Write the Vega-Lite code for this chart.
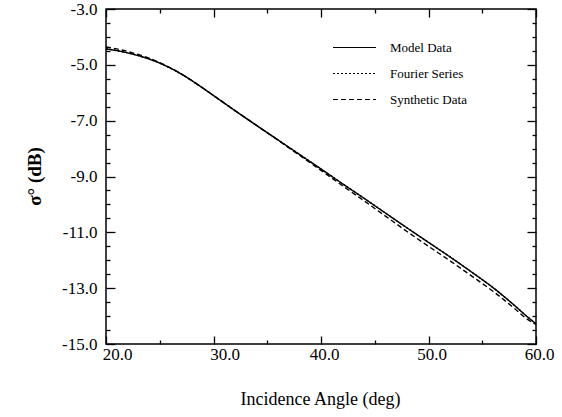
{
  "$schema": "https://vega.github.io/schema/vega-lite/v6.json",
  "width": 430,
  "height": 335,
  "autosize": "none",
  "padding": {"left": 106, "top": 9, "right": 26, "bottom": 73},
  "background": "white",
  "config": {
    "font": "Liberation Serif",
    "style": {"guide-label": {"font": "Liberation Serif"}, "guide-title": {"font": "Liberation Serif"}},
    "view": {"stroke": "black", "strokeWidth": 1.5},
    "axis": {"domain": false, "grid": false, "tickColor": "black", "tickWidth": 1.3,
      "labelFont": "Liberation Serif", "labelFontSize": 17, "labelColor": "black",
      "titleFont": "Liberation Serif", "titleColor": "black"}
  },
  "data": {"values": [
    {"angle": 20, "sigma": -4.43, "series": "Model Data"},
    {"angle": 21, "sigma": -4.49, "series": "Model Data"},
    {"angle": 22, "sigma": -4.57, "series": "Model Data"},
    {"angle": 23, "sigma": -4.67, "series": "Model Data"},
    {"angle": 24, "sigma": -4.79, "series": "Model Data"},
    {"angle": 25, "sigma": -4.94, "series": "Model Data"},
    {"angle": 26, "sigma": -5.12, "series": "Model Data"},
    {"angle": 27, "sigma": -5.33, "series": "Model Data"},
    {"angle": 28, "sigma": -5.57, "series": "Model Data"},
    {"angle": 29, "sigma": -5.83, "series": "Model Data"},
    {"angle": 30, "sigma": -6.10, "series": "Model Data"},
    {"angle": 32, "sigma": -6.64, "series": "Model Data"},
    {"angle": 34, "sigma": -7.17, "series": "Model Data"},
    {"angle": 36, "sigma": -7.69, "series": "Model Data"},
    {"angle": 38, "sigma": -8.21, "series": "Model Data"},
    {"angle": 40, "sigma": -8.73, "series": "Model Data"},
    {"angle": 42, "sigma": -9.26, "series": "Model Data"},
    {"angle": 44, "sigma": -9.78, "series": "Model Data"},
    {"angle": 46, "sigma": -10.31, "series": "Model Data"},
    {"angle": 48, "sigma": -10.84, "series": "Model Data"},
    {"angle": 50, "sigma": -11.36, "series": "Model Data"},
    {"angle": 52, "sigma": -11.88, "series": "Model Data"},
    {"angle": 54, "sigma": -12.42, "series": "Model Data"},
    {"angle": 56, "sigma": -12.98, "series": "Model Data"},
    {"angle": 58, "sigma": -13.62, "series": "Model Data"},
    {"angle": 59, "sigma": -13.96, "series": "Model Data"},
    {"angle": 60, "sigma": -14.28, "series": "Model Data"},
    {"angle": 20, "sigma": -4.42, "series": "Fourier Series"},
    {"angle": 21, "sigma": -4.49, "series": "Fourier Series"},
    {"angle": 22, "sigma": -4.57, "series": "Fourier Series"},
    {"angle": 23, "sigma": -4.67, "series": "Fourier Series"},
    {"angle": 24, "sigma": -4.79, "series": "Fourier Series"},
    {"angle": 25, "sigma": -4.94, "series": "Fourier Series"},
    {"angle": 26, "sigma": -5.12, "series": "Fourier Series"},
    {"angle": 27, "sigma": -5.33, "series": "Fourier Series"},
    {"angle": 28, "sigma": -5.57, "series": "Fourier Series"},
    {"angle": 29, "sigma": -5.83, "series": "Fourier Series"},
    {"angle": 30, "sigma": -6.10, "series": "Fourier Series"},
    {"angle": 32, "sigma": -6.64, "series": "Fourier Series"},
    {"angle": 34, "sigma": -7.17, "series": "Fourier Series"},
    {"angle": 36, "sigma": -7.69, "series": "Fourier Series"},
    {"angle": 38, "sigma": -8.21, "series": "Fourier Series"},
    {"angle": 40, "sigma": -8.73, "series": "Fourier Series"},
    {"angle": 42, "sigma": -9.26, "series": "Fourier Series"},
    {"angle": 44, "sigma": -9.78, "series": "Fourier Series"},
    {"angle": 46, "sigma": -10.31, "series": "Fourier Series"},
    {"angle": 48, "sigma": -10.84, "series": "Fourier Series"},
    {"angle": 50, "sigma": -11.36, "series": "Fourier Series"},
    {"angle": 52, "sigma": -11.88, "series": "Fourier Series"},
    {"angle": 54, "sigma": -12.42, "series": "Fourier Series"},
    {"angle": 56, "sigma": -12.98, "series": "Fourier Series"},
    {"angle": 58, "sigma": -13.62, "series": "Fourier Series"},
    {"angle": 59, "sigma": -13.96, "series": "Fourier Series"},
    {"angle": 60, "sigma": -14.28, "series": "Fourier Series"},
    {"angle": 20, "sigma": -4.36, "series": "Synthetic Data"},
    {"angle": 21, "sigma": -4.43, "series": "Synthetic Data"},
    {"angle": 22, "sigma": -4.52, "series": "Synthetic Data"},
    {"angle": 23, "sigma": -4.63, "series": "Synthetic Data"},
    {"angle": 24, "sigma": -4.76, "series": "Synthetic Data"},
    {"angle": 25, "sigma": -4.92, "series": "Synthetic Data"},
    {"angle": 26, "sigma": -5.11, "series": "Synthetic Data"},
    {"angle": 27, "sigma": -5.32, "series": "Synthetic Data"},
    {"angle": 28, "sigma": -5.57, "series": "Synthetic Data"},
    {"angle": 29, "sigma": -5.83, "series": "Synthetic Data"},
    {"angle": 30, "sigma": -6.10, "series": "Synthetic Data"},
    {"angle": 32, "sigma": -6.64, "series": "Synthetic Data"},
    {"angle": 34, "sigma": -7.17, "series": "Synthetic Data"},
    {"angle": 36, "sigma": -7.70, "series": "Synthetic Data"},
    {"angle": 38, "sigma": -8.24, "series": "Synthetic Data"},
    {"angle": 40, "sigma": -8.78, "series": "Synthetic Data"},
    {"angle": 42, "sigma": -9.33, "series": "Synthetic Data"},
    {"angle": 44, "sigma": -9.87, "series": "Synthetic Data"},
    {"angle": 46, "sigma": -10.42, "series": "Synthetic Data"},
    {"angle": 48, "sigma": -10.97, "series": "Synthetic Data"},
    {"angle": 50, "sigma": -11.50, "series": "Synthetic Data"},
    {"angle": 52, "sigma": -12.02, "series": "Synthetic Data"},
    {"angle": 54, "sigma": -12.56, "series": "Synthetic Data"},
    {"angle": 56, "sigma": -13.11, "series": "Synthetic Data"},
    {"angle": 58, "sigma": -13.73, "series": "Synthetic Data"},
    {"angle": 59, "sigma": -14.06, "series": "Synthetic Data"},
    {"angle": 60, "sigma": -14.30, "series": "Synthetic Data"}
  ]},
  "layer": [
    {
      "mark": {"type": "line", "color": "black", "strokeWidth": 1.4, "interpolate": "monotone"},
      "encoding": {
        "x": {"field": "angle", "type": "quantitative",
          "scale": {"domain": [20, 60], "nice": false, "zero": false},
          "axis": {"orient": "bottom", "offset": 0, "values": [20, 30, 40, 50, 60], "tickSize": -8, "labelPadding": 10,
            "labelFont": "Liberation Serif", "labelFontSize": 17,
            "labelExpr": "replace(format(datum.value, '.1f'), '\u2212', '-')",
            "labelOffset": {"condition": {"test": "datum.value <= 30", "value": 11}, "value": 3},
            "labelFlush": false,
            "title": "Incidence Angle (deg)", "titleFont": "Liberation Serif", "titleFontSize": 18, "titleFontWeight": "normal",
            "titleX": 214, "titleY": 60, "titleBaseline": "alphabetic", "titleAlign": "center"}},
        "y": {"field": "sigma", "type": "quantitative",
          "scale": {"domain": [-15, -3], "nice": false, "zero": false},
          "axis": {"orient": "left", "offset": 0, "values": [-15, -13, -11, -9, -7, -5, -3], "tickSize": -9, "labelPadding": 18,
            "labelFont": "Liberation Serif", "labelFontSize": 17,
            "labelExpr": "replace(format(datum.value, '.1f'), '\u2212', '-')",
            "labelFlush": false,
            "title": "σ° (dB)", "titleFont": "Liberation Serif", "titleFontSize": 19, "titleFontWeight": "bold",
            "titleX": -72, "titleY": 167, "titleAngle": -90, "titleAlign": "center", "titleBaseline": "middle"}},
        "strokeDash": {"field": "series", "type": "nominal",
          "scale": {"domain": ["Model Data", "Fourier Series", "Synthetic Data"], "range": [[1, 0], [2, 2], [5, 3]]},
          "legend": {"orient": "none", "legendX": 237, "legendY": 27, "title": null, "padding": 0,
            "symbolType": "M-2,0H2", "symbolSize": 462, "symbolStrokeWidth": 1.2, "symbolStrokeColor": "black", "symbolFillColor": "transparent",
            "labelFont": "Liberation Serif", "labelFontSize": 13, "labelColor": "black", "labelOffset": 24, "rowPadding": 7}}
      }
    },
    {
      "mark": {"type": "point", "opacity": 0},
      "encoding": {
        "x": {"field": "angle", "type": "quantitative",
          "axis": {"orient": "bottom", "offset": 0, "values": [25, 35, 45, 55], "tickSize": -4, "labels": false, "title": null}},
        "y": {"field": "sigma", "type": "quantitative",
          "axis": {"orient": "left", "offset": 0, "values": [-14.5, -14, -13.5, -12.5, -12, -11.5, -10.5, -10, -9.5, -8.5, -8, -7.5, -6.5, -6, -5.5, -4.5, -4, -3.5], "tickSize": -4, "labels": false, "title": null}}
      }
    },
    {
      "mark": {"type": "point", "opacity": 0},
      "encoding": {
        "x": {"field": "angle", "type": "quantitative",
          "axis": {"orient": "top", "offset": 0, "values": [20, 30, 40, 50, 60], "tickSize": -8, "labels": false, "title": null}},
        "y": {"field": "sigma", "type": "quantitative",
          "axis": {"orient": "right", "offset": 0, "values": [-15, -13, -11, -9, -7, -5, -3], "tickSize": -9, "labels": false, "title": null}}
      }
    },
    {
      "mark": {"type": "point", "opacity": 0},
      "encoding": {
        "x": {"field": "angle", "type": "quantitative",
          "axis": {"orient": "top", "offset": 0, "values": [25, 35, 45, 55], "tickSize": -4, "labels": false, "title": null}},
        "y": {"field": "sigma", "type": "quantitative",
          "axis": {"orient": "right", "offset": 0, "values": [-14.5, -14, -13.5, -12.5, -12, -11.5, -10.5, -10, -9.5, -8.5, -8, -7.5, -6.5, -6, -5.5, -4.5, -4, -3.5], "tickSize": -4, "labels": false, "title": null}}
      }
    }
  ],
  "resolve": {"scale": {"x": "shared", "y": "shared"}, "axis": {"x": "independent", "y": "independent"}}
}
